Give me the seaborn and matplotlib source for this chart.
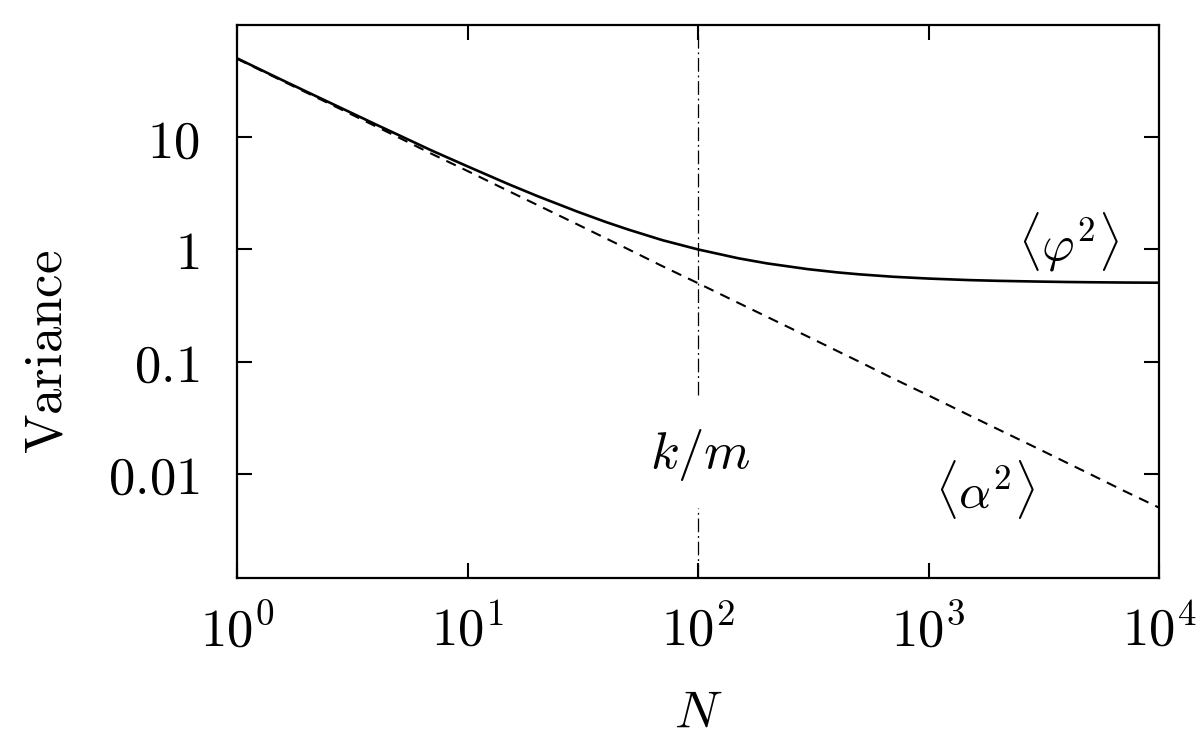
import numpy as np
import pandas as pd
import matplotlib
matplotlib.use("Agg")
import matplotlib.pyplot as plt
import seaborn as sns

# ---- data ----
N = [1, 1.5, 2, 3, 4, 5, 7, 10, 15, 20, 30, 40, 50, 70, 100, 150, 200, 300, 400,
     500, 700, 1000, 1500, 2000, 3000, 4000, 5000, 7000, 10000]
phi2 = [50.5, 33.8, 25.5, 17.2, 13.0, 10.5, 7.6, 5.5, 3.83, 3.0, 2.17, 1.75, 1.5,
        1.21, 1.0, 0.833, 0.75, 0.667, 0.625, 0.6, 0.571, 0.55, 0.533, 0.525,
        0.517, 0.5125, 0.51, 0.507, 0.505]
alpha2 = [50, 33.3, 25, 16.7, 12.5, 10, 7.1, 5.0, 3.33, 2.5, 1.67, 1.25, 1.0,
          0.71, 0.5, 0.333, 0.25, 0.167, 0.125, 0.1, 0.071, 0.05, 0.0333, 0.025,
          0.0167, 0.0125, 0.01, 0.0071, 0.005]
km_N = [100, 100]
km_upper = [0.05, 100]
km_lower = [0.00118, 0.005]

xticks = [1, 10, 100, 1000, 10000]
xticklabels = [r"$10^{0}$", r"$10^{1}$", r"$10^{2}$", r"$10^{3}$", r"$10^{4}$"]
yticks = [0.01, 0.1, 1, 10]
yticklabels = [r"$0.01$", r"$0.1$", r"$1$", r"$10$"]

sns.set_style("ticks")
plt.rcParams["mathtext.fontset"] = "cm"
plt.rcParams["font.family"] = ["DejaVu Serif"]
plt.rcParams["text.color"] = "black"
plt.rcParams["axes.labelcolor"] = "black"
plt.rcParams["xtick.color"] = "black"
plt.rcParams["ytick.color"] = "black"

FS = 38

fig = plt.figure(figsize=(12, 7.5), dpi=100)
ax = fig.add_axes([237 / 1200, 1 - 578 / 750, (1159 - 237) / 1200, (578 - 25) / 750])

df = pd.DataFrame({"N": N, "phi2": phi2, "alpha2": alpha2})
sns.lineplot(data=df, x="N", y="phi2", ax=ax, color="black", lw=1.9)
sns.lineplot(data=df, x="N", y="alpha2", ax=ax, color="black", lw=1.5,
             linestyle=(0, (5.0, 3.6)))
for seg in (km_upper, km_lower):
    ax.plot(km_N, seg, color="black", lw=0.9, linestyle=(0, (11, 3, 1.5, 3)))

ax.set_xscale("log")
ax.set_yscale("log")
ax.set_xlim(1, 10000)
ax.set_ylim(0.00118, 100)
ax.set_xticks(xticks)
ax.set_xticklabels(xticklabels)
ax.set_yticks(yticks)
ax.set_yticklabels(yticklabels)
ax.minorticks_off()
ax.tick_params(which="major", direction="in", length=10.5, width=1.5,
               top=True, right=True, labelsize=FS, color="black", labelcolor="black")
ax.tick_params(axis="x", pad=20)
ax.tick_params(axis="y", pad=27)
for s in ax.spines.values():
    s.set_linewidth(1.6)
    s.set_color("black")

ax.set_xlabel(r"$N$", fontsize=FS, labelpad=22, color="black")
ax.set_ylabel(r"$\mathrm{Variance}$", fontsize=FS, color="black")
ax.yaxis.set_label_coords(-0.178, 0.409)

ax.text(4030, 1.15, r"$\langle\varphi^2\rangle$", fontsize=36, ha="center", va="center")
ax.text(1760, 0.0072, r"$\langle\alpha^2\rangle$", fontsize=36, ha="center", va="center")
ax.text(102, 0.0148, r"$k/m$", fontsize=FS, ha="center", va="center")

fig.savefig("out.png", dpi=100, facecolor="white")
